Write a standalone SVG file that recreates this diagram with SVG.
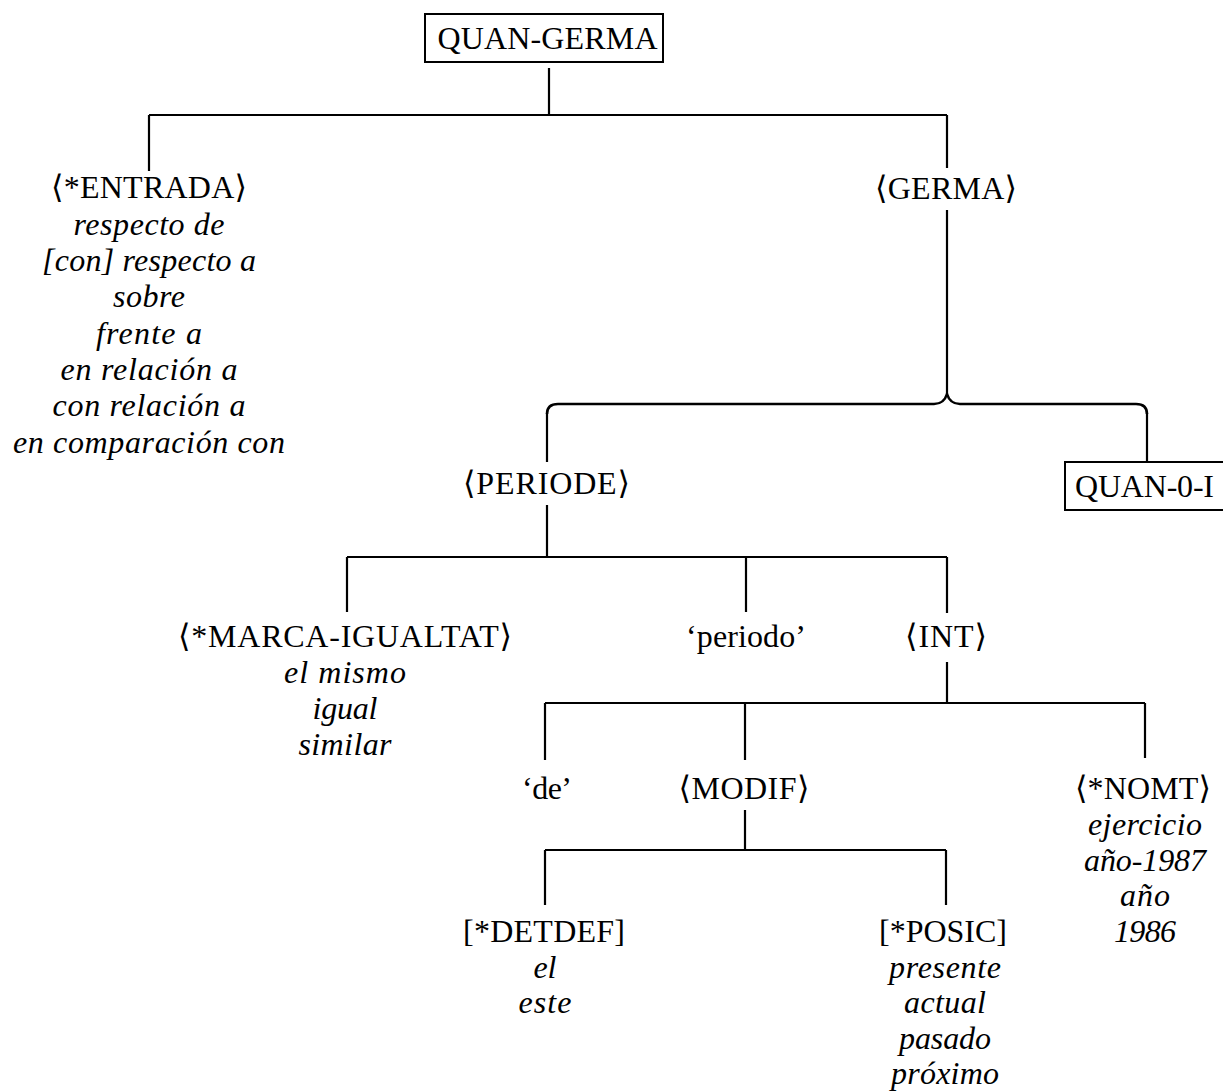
<svg xmlns="http://www.w3.org/2000/svg" width="1223" height="1092" viewBox="0 0 1223 1092">
  <style>
    .lab { font-family: "Liberation Serif", "DejaVu Serif", serif; font-size: 32px; fill: #000; text-anchor: middle; }
    .ex  { font-family: "Liberation Serif", "DejaVu Serif", serif; font-size: 32px; font-style: italic; fill: #000; text-anchor: middle; }
    .box { fill: none; stroke: #000; stroke-width: 2; }
    .edge { fill: none; stroke: #000; stroke-width: 2.2; stroke-linecap: butt; }
    .brace { fill: none; stroke: #000; stroke-width: 2.6; }
  </style>
  <rect width="1223" height="1092" fill="#fff"/>

  <!-- tree branches -->
  <g id="connectors">
    <path class="edge" d="M549 68 V115 M149 115 H947 M149 115 V171 M947 115 V168"/>
    <path class="edge" d="M947 210 V394"/>
    <!-- overbrace joining PERIODE and QUAN-0-I -->
    <path class="brace" d="M547 414 Q547 404 558 404 H934 Q944 404 947 394 Q950 404 960 404 H1136 Q1147 404 1147 414"/>
    <path class="edge" d="M547 413 V462 M1147 413 V462"/>
    <path class="edge" d="M547 505 V557 M347 557 H947 M347 557 V612 M746 557 V612 M947 557 V613"/>
    <path class="edge" d="M947 662 V703 M545 703 H1145 M545 703 V760 M745 703 V760 M1145 703 V758"/>
    <path class="edge" d="M745 810 V850 M545 850 H946 M545 850 V905 M946 850 V905"/>
  </g>

  <g id="quan-germa">
    <rect class="box" x="425" y="14" width="238" height="48"/>
    <text class="lab" x="547.5" y="49" textLength="220" lengthAdjust="spacing">QUAN-GERMA</text>
  </g>

  <g id="entrada">
    <text class="lab" x="149" y="198" textLength="196" lengthAdjust="spacing">⟨*ENTRADA⟩</text>
    <text class="ex" x="149" y="234.5" textLength="151" lengthAdjust="spacing">respecto de</text>
    <text class="ex" x="149" y="271" textLength="214" lengthAdjust="spacing">[con] respecto a</text>
    <text class="ex" x="149" y="307" textLength="72" lengthAdjust="spacing">sobre</text>
    <text class="ex" x="149" y="343.5" textLength="106" lengthAdjust="spacing">frente a</text>
    <text class="ex" x="149" y="380" textLength="177" lengthAdjust="spacing">en relación a</text>
    <text class="ex" x="149" y="416" textLength="193" lengthAdjust="spacing">con relación a</text>
    <text class="ex" x="149" y="452.5" textLength="272" lengthAdjust="spacing">en comparación con</text>
  </g>

  <g id="germa">
    <text class="lab" x="946" y="199" textLength="142" lengthAdjust="spacing">⟨GERMA⟩</text>
  </g>

  <g id="periode">
    <text class="lab" x="546.5" y="494" textLength="167" lengthAdjust="spacing">⟨PERIODE⟩</text>
  </g>

  <g id="quan-0-i">
    <rect class="box" x="1065" y="462" width="170" height="48"/>
    <text class="lab" x="1144.5" y="497" textLength="139" lengthAdjust="spacing">QUAN-0-I</text>
  </g>

  <g id="marca-igualtat">
    <text class="lab" x="345" y="647" textLength="334" lengthAdjust="spacing">⟨*MARCA-IGUALTAT⟩</text>
    <text class="ex" x="345" y="683" textLength="122" lengthAdjust="spacing">el mismo</text>
    <text class="ex" x="345" y="719" textLength="65" lengthAdjust="spacing">igual</text>
    <text class="ex" x="345" y="755" textLength="93" lengthAdjust="spacing">similar</text>
  </g>

  <g id="periodo">
    <text class="lab" x="746" y="647" textLength="120" lengthAdjust="spacing">‘periodo’</text>
  </g>

  <g id="int">
    <text class="lab" x="946" y="647" textLength="82" lengthAdjust="spacing">⟨INT⟩</text>
  </g>

  <g id="de">
    <text class="lab" x="547" y="799" textLength="50" lengthAdjust="spacing">‘de’</text>
  </g>

  <g id="modif">
    <text class="lab" x="744" y="799" textLength="131" lengthAdjust="spacing">⟨MODIF⟩</text>
  </g>

  <g id="nomt">
    <text class="lab" x="1143" y="799" textLength="136" lengthAdjust="spacing">⟨*NOMT⟩</text>
    <text class="ex" x="1145" y="835" textLength="114" lengthAdjust="spacing">ejercicio</text>
    <text class="ex" x="1145" y="870.5" textLength="122" lengthAdjust="spacing">año-1987</text>
    <text class="ex" x="1145" y="906" textLength="50" lengthAdjust="spacing">año</text>
    <text class="ex" x="1145" y="941.5" textLength="62" lengthAdjust="spacing">1986</text>
  </g>

  <g id="detdef">
    <text class="lab" x="544" y="942" textLength="162" lengthAdjust="spacing">[*DETDEF]</text>
    <text class="ex" x="545" y="977.5" textLength="23" lengthAdjust="spacing">el</text>
    <text class="ex" x="545" y="1013" textLength="53" lengthAdjust="spacing">este</text>
  </g>

  <g id="posic">
    <text class="lab" x="943" y="942" textLength="128" lengthAdjust="spacing">[*POSIC]</text>
    <text class="ex" x="945" y="977.5" textLength="112" lengthAdjust="spacing">presente</text>
    <text class="ex" x="945" y="1013" textLength="82" lengthAdjust="spacing">actual</text>
    <text class="ex" x="945" y="1048.5" textLength="92" lengthAdjust="spacing">pasado</text>
    <text class="ex" x="945" y="1084" textLength="108" lengthAdjust="spacing">próximo</text>
  </g>
</svg>
